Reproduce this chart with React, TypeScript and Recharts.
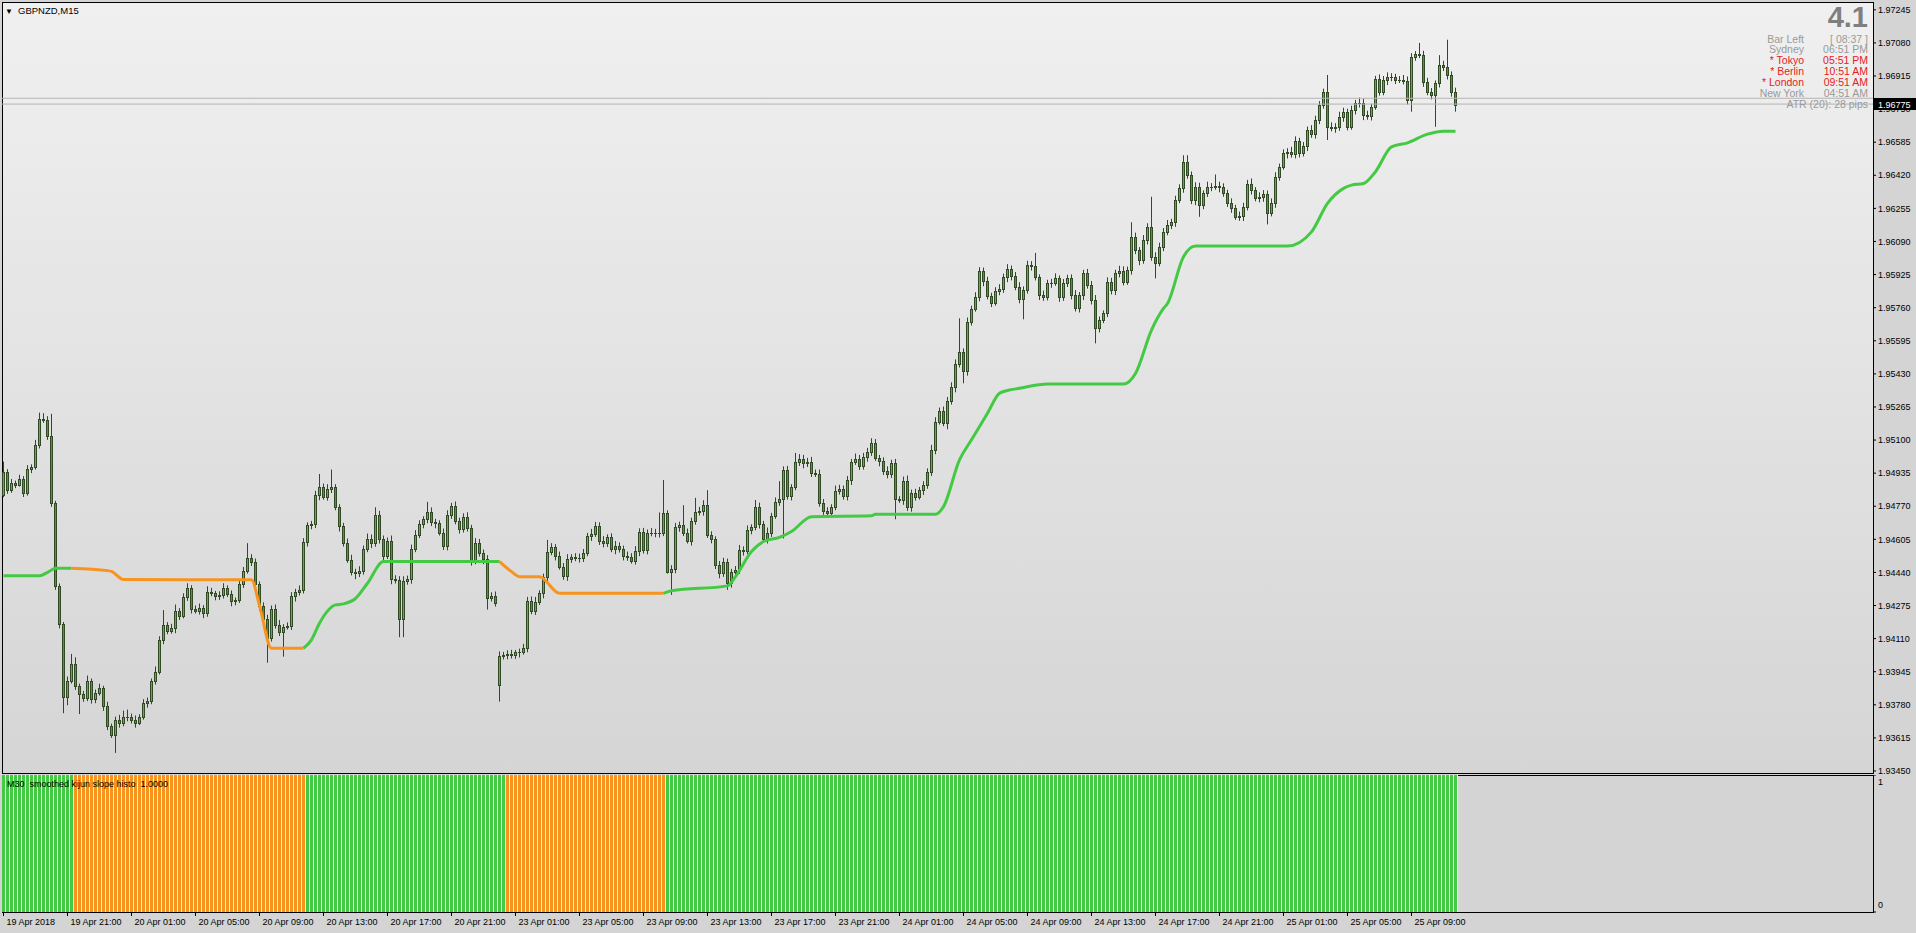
import React from 'react';
import { ComposedChart, Bar, Line, XAxis, YAxis, Cell, ReferenceLine } from 'recharts';

const FONT = '"Liberation Sans", Arial, sans-serif';

// GBPNZD M15 closes, in points (0.00001) above 1.93000
const BASE = 1.93;
const closePts = [
  1943, 1852, 1888, 1878, 1905, 1838, 1955, 1965, 2076, 2204, 2201, 2121, 1785, 1370, 1183, 818, 901, 984, 874, 834,
  813, 901, 808, 838, 863, 775, 672, 630, 705, 688, 721, 718, 705, 691, 721, 788, 801, 901, 946, 1104,
  1177, 1150, 1162, 1250, 1223, 1316, 1361, 1257, 1250, 1263, 1237, 1343, 1336, 1323, 1328, 1361, 1330, 1296, 1303, 1383,
  1449, 1511, 1494, 1383, 1273, 1207, 1115, 1260, 1178, 1145, 1170, 1173, 1320, 1343, 1350, 1591, 1675, 1679, 1825, 1865,
  1818, 1858, 1865, 1768, 1669, 1589, 1503, 1443, 1439, 1449, 1556, 1609, 1586, 1725, 1606, 1522, 1599, 1406, 1403, 1207,
  1399, 1409, 1559, 1626, 1682, 1705, 1742, 1689, 1685, 1639, 1572, 1725, 1772, 1695, 1659, 1715, 1662, 1496, 1589, 1539,
  1506, 1313, 1323, 1290, 1021, 1029, 1034, 1029, 1041, 1045, 1062, 1300, 1250, 1293, 1336, 1416, 1544, 1566, 1522, 1469,
  1423, 1506, 1516, 1511, 1512, 1539, 1622, 1632, 1672, 1599, 1585, 1615, 1556, 1572, 1559, 1522, 1516, 1499, 1546, 1642,
  1552, 1639, 1635, 1639, 1639, 1735, 1444, 1456, 1665, 1675, 1639, 1599, 1698, 1742, 1745, 1775, 1627, 1605, 1477, 1436,
  1491, 1386, 1443, 1452, 1552, 1549, 1652, 1665, 1768, 1679, 1609, 1639, 1722, 1792, 1805, 1951, 1821, 1865, 1991, 2008,
  1984, 1991, 1938, 1931, 1788, 1745, 1738, 1765, 1848, 1855, 1821, 1901, 1991, 2008, 1971, 2014, 2041, 2087, 2011, 1994,
  1944, 1931, 1984, 1805, 1802, 1898, 1765, 1835, 1818, 1851, 1875, 1941, 2051, 2192, 2247, 2187, 2297, 2363, 2480, 2539,
  2443, 2689, 2755, 2812, 2942, 2892, 2819, 2785, 2842, 2852, 2912, 2955, 2918, 2862, 2802, 2848, 2972, 2967, 2911, 2823,
  2814, 2881, 2884, 2906, 2814, 2881, 2906, 2823, 2756, 2823, 2931, 2873, 2798, 2657, 2698, 2731, 2889, 2848, 2931, 2944,
  2889, 2947, 3114, 3047, 2997, 3097, 3163, 3014, 2981, 3064, 3139, 3172, 3188, 3296, 3355, 3487, 3421, 3296, 3363, 3271,
  3330, 3363, 3363, 3366, 3360, 3333, 3280, 3255, 3213, 3217, 3263, 3379, 3346, 3305, 3313, 3326, 3233, 3280, 3413, 3463,
  3529, 3537, 3526, 3592, 3529, 3566, 3645, 3625, 3695, 3770, 3837, 3662, 3654, 3662, 3712, 3737, 3662, 3745, 3778, 3782,
  3720, 3715, 3762, 3898, 3837, 3895, 3911, 3911, 3895, 3895, 3891, 3795, 4011, 4024, 4019, 3886, 3837, 3820, 3878, 3969,
  3958, 3920, 3837, 3770,
];

// bars whose open is not the previous close (first bar, Monday gap)
const gapOpens: Record<number, number> = { 0: 1827, 124: 879 };

// wick lengths beyond the body, points
const wickHi = [
  50, 12, 18, 10, 22, 15, 20, 14, 25, 33, 30, 18, 110, 12, 15, 10, 20, 50, 33, 12,
  15, 25, 10, 18, 22, 12, 20, 14, 16, 25, 30, 35, 18, 22, 12, 20, 15, 10, 25, 18,
  75, 15, 22, 30, 12, 20, 25, 15, 18, 22, 14, 28, 20, 12, 18, 25, 15, 20, 12, 22,
  18, 75, 20, 15, 12, 18, 22, 15, 20, 25, 12, 18, 22, 15, 25, 20, 15, 18, 22, 66,
  18, 22, 88, 15, 12, 18, 20, 25, 15, 22, 18, 25, 20, 40, 22, 18, 15, 25, 20, 18,
  22, 15, 20, 25, 18, 15, 50, 22, 18, 15, 20, 25, 15, 22, 18, 20, 25, 15, 22, 18,
  15, 20, 18, 22, 25, 15, 18, 20, 12, 15, 22, 18, 20, 25, 15, 18, 58, 20, 15, 22,
  18, 25, 15, 20, 22, 18, 15, 25, 20, 18, 22, 15, 20, 25, 18, 15, 22, 20, 25, 18,
  20, 15, 22, 18, 100, 166, 15, 20, 22, 18, 100, 20, 15, 70, 22, 25, 75, 18, 15, 20,
  22, 18, 15, 20, 25, 18, 22, 15, 33, 20, 18, 25, 15, 22, 90, 18, 20, 15, 45, 22,
  18, 20, 25, 15, 22, 18, 20, 15, 25, 22, 18, 20, 15, 25, 18, 22, 20, 22, 18, 15,
  20, 25, 18, 22, 15, 20, 25, 18, 22, 15, 20, 18, 25, 22, 15, 20, 18, 25, 22, 168,
  18, 22, 15, 25, 20, 18, 22, 15, 20, 25, 18, 22, 15, 20, 25, 18, 22, 20, 66, 15,
  22, 18, 20, 25, 15, 22, 18, 20, 25, 15, 18, 22, 20, 25, 18, 15, 22, 20, 18, 25,
  22, 18, 72, 20, 15, 25, 18, 150, 22, 20, 18, 25, 15, 22, 20, 33, 33, 18, 22, 20,
  15, 25, 18, 58, 22, 20, 15, 25, 18, 22, 20, 18, 25, 15, 22, 20, 18, 25, 22, 15,
  20, 18, 25, 22, 15, 20, 18, 25, 22, 20, 15, 83, 22, 18, 25, 20, 15, 22, 18, 25,
  20, 22, 15, 18, 25, 20, 22, 18, 15, 20, 25, 22, 18, 15, 56, 22, 20, 18, 15, 50,
  22, 138, 18, 20,
];
const wickLo = [
  12, 20, 15, 18, 10, 22, 15, 20, 12, 18, 15, 20, 18, 17, 22, 80, 40, 15, 20, 100,
  18, 15, 22, 20, 12, 25, 18, 15, 90, 22, 15, 20, 18, 25, 12, 15, 22, 18, 20, 15,
  22, 18, 15, 25, 20, 12, 18, 22, 15, 20, 25, 18, 15, 22, 20, 18, 12, 25, 20, 15,
  20, 15, 22, 18, 25, 15, 125, 20, 18, 22, 125, 15, 20, 25, 18, 15, 22, 20, 18, 25,
  15, 20, 22, 18, 25, 20, 15, 18, 33, 22, 20, 15, 25, 18, 22, 20, 15, 25, 18, 90,
  90, 20, 25, 18, 15, 22, 20, 18, 25, 15, 20, 22, 18, 15, 25, 20, 18, 22, 15, 20,
  25, 58, 18, 20, 83, 15, 22, 18, 20, 25, 15, 20, 18, 22, 15, 25, 20, 18, 22, 15,
  20, 25, 18, 15, 22, 20, 18, 25, 15, 22, 20, 18, 15, 25, 20, 22, 18, 15, 20, 25,
  18, 22, 15, 20, 25, 18, 10, 116, 20, 22, 18, 15, 25, 20, 18, 22, 15, 20, 20, 25,
  18, 33, 22, 15, 20, 25, 18, 22, 15, 20, 18, 25, 22, 15, 20, 196, 18, 22, 15, 20,
  25, 18, 22, 15, 20, 18, 25, 22, 15, 20, 18, 22, 25, 15, 20, 18, 22, 20, 15, 25,
  18, 22, 20, 100, 15, 25, 18, 22, 20, 15, 25, 18, 20, 22, 15, 18, 33, 20, 25, 18,
  60, 22, 18, 15, 20, 25, 18, 22, 15, 20, 18, 25, 22, 15, 20, 100, 18, 22, 15, 25,
  20, 18, 22, 15, 25, 20, 18, 22, 15, 20, 25, 18, 22, 75, 20, 15, 18, 22, 25, 20,
  18, 15, 22, 20, 25, 18, 22, 20, 75, 15, 22, 18, 20, 25, 15, 22, 18, 20, 25, 58,
  20, 18, 22, 15, 25, 20, 18, 22, 15, 20, 25, 18, 22, 15, 20, 25, 58, 18, 22, 20,
  15, 25, 18, 22, 20, 15, 25, 18, 22, 20, 18, 66, 15, 22, 20, 25, 18, 15, 22, 20,
  25, 18, 22, 15, 20, 18, 25, 22, 20, 15, 18, 22, 58, 20, 15, 25, 18, 22, 158, 20,
  18, 22, 25, 33,
];

// smoothed kijun, sampled [bar, points], split where the colour changes
const kijunSegments: { trend: 'up' | 'down'; pts: number[][] }[] = [
  { trend: 'up', pts: [[0, 1423], [9, 1423], [11, 1440], [13, 1461], [17, 1461]] },
  { trend: 'down', pts: [[17, 1461], [26, 1449], [27, 1445], [30, 1405], [62, 1403], [64, 1275], [67, 1062], [75, 1062]] },
  { trend: 'up', pts: [[75, 1062], [77, 1104], [79, 1187], [83, 1278], [85, 1283], [88, 1310], [91, 1386], [95, 1494], [124, 1494]] },
  { trend: 'down', pts: [[124, 1494], [127, 1444], [129, 1419], [134, 1419], [139, 1336], [165, 1336]] },
  {
    trend: 'up',
    pts: [
      [165, 1336], [167, 1349], [181, 1373], [183, 1419], [187, 1544], [190, 1594], [194, 1615], [197, 1644],
      [202, 1718], [217, 1722], [218, 1730], [233, 1730], [235, 1768], [239, 2001], [242, 2101], [246, 2234],
      [249, 2333], [251, 2347], [254, 2358], [261, 2379], [280, 2379], [283, 2432], [287, 2648], [290, 2756],
      [291, 2781], [295, 3014], [298, 3067], [321, 3067], [327, 3138], [331, 3280], [335, 3355], [337, 3371],
      [340, 3379], [343, 3438], [347, 3562], [351, 3582], [356, 3625], [360, 3640], [363, 3640],
    ],
  },
];

// M30 kijun slope histogram, run lengths per bar
const histoRuns: [string, number][] = [['up', 18], ['down', 58], ['up', 50], ['down', 40], ['up', 198]];

const priceTicks = [
  1.97245, 1.9708, 1.96915, 1.9675, 1.96585, 1.9642, 1.96255, 1.9609, 1.95925, 1.9576, 1.95595, 1.9543,
  1.95265, 1.951, 1.94935, 1.9477, 1.94605, 1.9444, 1.94275, 1.9411, 1.93945, 1.9378, 1.93615, 1.9345,
];

const timeLabels = [
  '19 Apr 2018', '19 Apr 21:00', '20 Apr 01:00', '20 Apr 05:00', '20 Apr 09:00', '20 Apr 13:00',
  '20 Apr 17:00', '20 Apr 21:00', '23 Apr 01:00', '23 Apr 05:00', '23 Apr 09:00', '23 Apr 13:00',
  '23 Apr 17:00', '23 Apr 21:00', '24 Apr 01:00', '24 Apr 05:00', '24 Apr 09:00', '24 Apr 13:00',
  '24 Apr 17:00', '24 Apr 21:00', '25 Apr 01:00', '25 Apr 05:00', '25 Apr 09:00',
];

const bidPrice = 1.96775;
const askPrice = 1.96804;

const sessionRows = [
  { name: 'Bar Left', time: '[ 08:37 ]', open: false },
  { name: 'Sydney', time: '06:51 PM', open: false },
  { name: '* Tokyo', time: '05:51 PM', open: true },
  { name: '* Berlin', time: '10:51 AM', open: true },
  { name: '* London', time: '09:51 AM', open: true },
  { name: 'New York', time: '04:51 AM', open: false },
];

const X_DOMAIN: [number, number] = [-0.375, 467.375];
const PRICE_DOMAIN: [number, number] = [1.9344, 1.97284];
const BARS_PER_LABEL = 16;

const BULL = '#4ab84a';
const BEAR = '#a86a44';
const WICK = '#304a24';
const KIJUN_UP = '#44c944';
const KIJUN_DOWN = '#f7941d';
const HIST_UP = '#44c944';
const HIST_DOWN = '#f7941d';

const toPrice = (pts: number) => BASE + pts / 100000;

const candles = closePts.map((c, i) => {
  const o = gapOpens[i] ?? closePts[i - 1];
  const hi = Math.max(o, c) + wickHi[i];
  const lo = Math.min(o, c) - wickLo[i];
  return { bar: i, open: toPrice(o), close: toPrice(c), high: toPrice(hi), low: toPrice(lo) };
});

const histo: { bar: number; v: number; trend: string }[] = [];
histoRuns.forEach(([trend, n]) => {
  for (let k = 0; k < n; k++) histo.push({ bar: histo.length, v: 1, trend });
});

function Candle(props: any) {
  const { x, width, y, height, payload } = props;
  if (x == null || !payload) return null;
  const top0 = Math.min(y, y + height);
  const h = Math.abs(height);
  const { open, close, high, low } = payload;
  const k = h / (high - low);
  const py = (v: number) => top0 + (high - v) * k;
  const px = Math.floor(x + width / 2 + 0.01);
  const bt = Math.round(py(Math.max(open, close)));
  const bb = Math.round(py(Math.min(open, close)));
  const up = close >= open;
  return (
    <g>
      <line x1={px + 0.5} x2={px + 0.5} y1={top0} y2={top0 + h} stroke={WICK} strokeWidth={1} />
      {bb - bt < 1 ? (
        <line x1={px - 1} x2={px + 2} y1={bt + 0.5} y2={bt + 0.5} stroke={WICK} strokeWidth={1} />
      ) : (
        <rect x={px - 0.5} y={bt + 0.5} width={2} height={bb - bt} fill={up ? BULL : BEAR} stroke={WICK} strokeWidth={1} />
      )}
    </g>
  );
}

function HistBar(props: any) {
  const { x, width, y, height, payload } = props;
  if (x == null || !payload) return null;
  const px = Math.floor(x + width / 2 + 0.01);
  return (
    <g>
      <rect x={px - 1} y={y} width={3} height={height} fill={payload.trend === 'up' ? HIST_UP : HIST_DOWN} />
      <rect x={px + 2} y={y} width={1} height={height} fill="#eef3ee" />
    </g>
  );
}

function TimeTick(props: any) {
  const { x, y, payload } = props;
  const label = timeLabels[Math.round(payload.value / BARS_PER_LABEL)];
  return (
    <text x={x + 3} y={y + 7} fontSize={9} fill="#000" textAnchor="start" fontFamily={FONT}>
      {label}
    </text>
  );
}

function HistTick(props: any) {
  const { x, y, payload } = props;
  return (
    <text x={x} y={payload.value === 1 ? y + 10 : y - 4} fontSize={9} fill="#000" textAnchor="start" fontFamily={FONT}>
      {payload.value}
    </text>
  );
}

export default function App() {
  return (
    <div style={{ position: 'relative', width: 1916, height: 933, background: '#d4d4d4', fontFamily: FONT, overflow: 'hidden' }}>
      <style>{'body{margin:0}'}</style>
      <div
        style={{
          position: 'absolute', left: 2, top: 2, width: 1872, height: 772, boxSizing: 'border-box',
          border: '1px solid #000', background: 'linear-gradient(#f0f0f0, #d5d5d5)',
        }}
      />
      <div
        style={{
          position: 'absolute', left: 2, top: 775, width: 1872, height: 138, boxSizing: 'border-box',
          border: '1px solid #000', background: '#d4d4d4',
        }}
      />
      <div style={{ position: 'absolute', left: 0, top: 0 }}>
        <ComposedChart width={1916} height={775} data={candles} margin={{ top: 2, right: 0, bottom: 2, left: 2 }}>
          <XAxis dataKey="bar" type="number" domain={X_DOMAIN} allowDataOverflow hide />
          <YAxis
            orientation="right"
            width={43}
            domain={PRICE_DOMAIN}
            allowDataOverflow
            ticks={priceTicks}
            interval={0}
            tickFormatter={(v: number) => v.toFixed(5)}
            tick={{ fontSize: 9, fill: '#000', fontFamily: FONT }}
            tickLine={{ stroke: '#000' }}
            tickSize={3}
            tickMargin={2}
            axisLine={false}
          />
          <ReferenceLine y={askPrice} stroke="#b4b4b4" strokeWidth={1} />
          <ReferenceLine y={bidPrice} stroke="#b4b4b4" strokeWidth={1} />
          <Bar
            dataKey={(d: any) => [d.low, d.high]}
            barSize={3}
            isAnimationActive={false}
            shape={(p: any) => <Candle {...p} />}
          />
          {kijunSegments.map((seg, i) => (
            <Line
              key={i}
              data={seg.pts.map(([bar, pts]) => ({ bar, p: toPrice(pts) }))}
              dataKey="p"
              type="monotone"
              stroke={seg.trend === 'up' ? KIJUN_UP : KIJUN_DOWN}
              strokeWidth={3}
              dot={false}
              activeDot={false}
              isAnimationActive={false}
            />
          ))}
        </ComposedChart>
      </div>
      <div style={{ position: 'absolute', left: 0, top: 775 }}>
        <ComposedChart width={1916} height={158} data={histo} margin={{ top: 0, right: 0, bottom: 0, left: 2 }}>
          <XAxis
            dataKey="bar"
            type="number"
            domain={X_DOMAIN}
            allowDataOverflow
            ticks={timeLabels.map((_, i) => i * BARS_PER_LABEL)}
            interval={0}
            height={21}
            tick={<TimeTick />}
            tickLine={{ stroke: '#000' }}
            tickSize={4}
            axisLine={false}
          />
          <YAxis
            orientation="right"
            width={43}
            domain={[0, 1]}
            ticks={[0, 1]}
            interval={0}
            tick={<HistTick />}
            tickLine={{ stroke: '#000' }}
            tickSize={3}
            tickMargin={2}
            axisLine={false}
          />
          <Bar dataKey="v" barSize={3} isAnimationActive={false} shape={(p: any) => <HistBar {...p} />}>
            {histo.map((d) => (
              <Cell key={d.bar} fill={d.trend === 'up' ? HIST_UP : HIST_DOWN} />
            ))}
          </Bar>
        </ComposedChart>
      </div>
      <svg width={1916} height={933} style={{ position: 'absolute', left: 0, top: 0, pointerEvents: 'none' }} fontFamily={FONT}>
        <text x={5} y={14} fontSize={8} fill="#000">▼</text>
        <text x={18} y={14} fontSize={9.5} fill="#000">GBPNZD,M15</text>
        <text x={1868} y={27} fontSize={29} fontWeight="bold" fill="#7f7f7f" textAnchor="end">4.1</text>
        {sessionRows.map((r, i) => (
          <g key={r.name}>
            <text x={1804} y={42.5 + i * 10.8} fontSize={10.5} fill={r.open ? '#e82020' : '#9a9a9a'} textAnchor="end">{r.name}</text>
            <text x={1868} y={42.5 + i * 10.8} fontSize={10.5} fill={r.open ? '#e82020' : '#9a9a9a'} textAnchor="end">{r.time}</text>
          </g>
        ))}
        <text x={1868} y={108} fontSize={10.5} fill="#9a9a9a" textAnchor="end">ATR (20): 28 pips</text>
        <rect x={1874} y={98} width={42} height={12} fill="#000" />
        <text x={1878} y={107.5} fontSize={9} fill="#fff">{bidPrice.toFixed(5)}</text>
        <text x={7} y={787} fontSize={9} fill="#000" style={{ whiteSpace: 'pre' }}>{'M30  smoothed kijun slope histo  1.0000'}</text>
      </svg>
    </div>
  );
}
